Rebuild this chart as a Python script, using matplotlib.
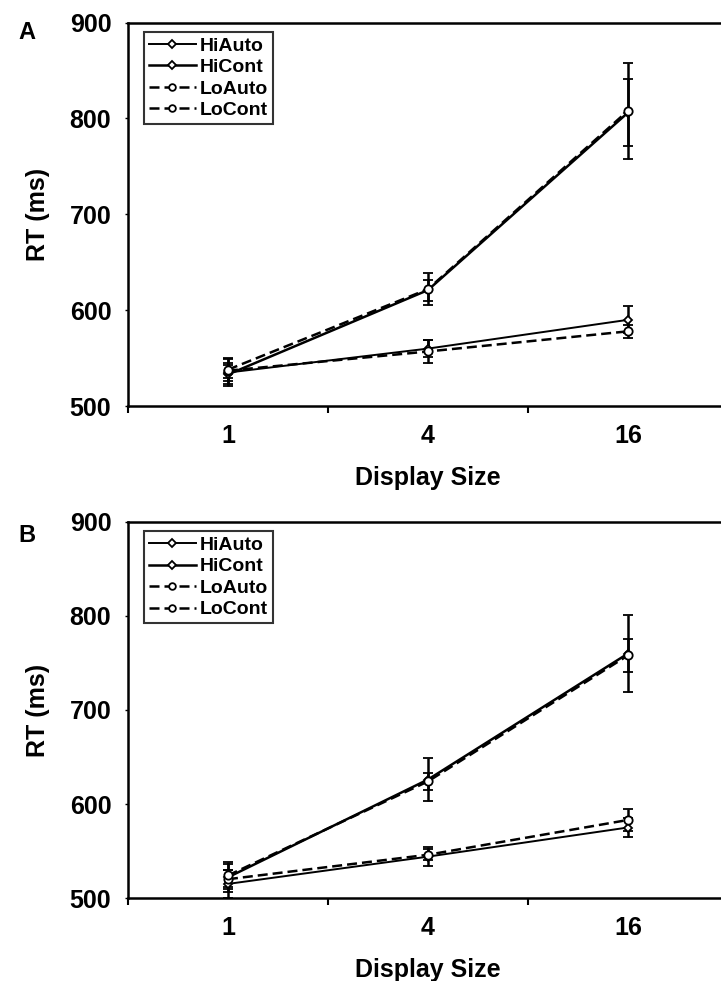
import matplotlib.pyplot as plt
from matplotlib.ticker import FixedLocator

plt.rcParams['font.family'] = ['Liberation Sans', 'DejaVu Sans']
plt.rcParams['font.weight'] = 'bold'

# Display size categories
display_sizes = ["1", "4", "16"]
series_names = ["HiAuto", "HiCont", "LoAuto", "LoCont"]

# Panel A mean RTs (ms) and error bar half-widths
a_hi_auto = [535, 560, 590]
a_hi_cont = [533, 621, 806]
a_lo_auto = [537, 557, 578]
a_lo_cont = [538, 622, 808]
a_hi_auto_err = [14, 9, 14]
a_hi_cont_err = [10, 11, 35]
a_lo_auto_err = [8, 12, 7]
a_lo_cont_err = [12, 17, 50]

# Panel B mean RTs (ms) and error bar half-widths
b_hi_auto = [515, 544, 575]
b_hi_cont = [522, 626, 760]
b_lo_auto = [520, 546, 583]
b_lo_cont = [524, 624, 758]
b_hi_auto_err = [15, 10, 10]
b_hi_cont_err = [16, 23, 41]
b_lo_auto_err = [10, 6, 12]
b_lo_cont_err = [12, 9, 18]

styles = {
    "HiAuto": dict(ls="-", marker="D", ms=4.5, lw=1.4),
    "HiCont": dict(ls="-", marker="D", ms=4.5, lw=1.8),
    "LoAuto": dict(ls="--", marker="o", ms=6, lw=1.8),
    "LoCont": dict(ls="--", marker="o", ms=6, lw=1.8),
}


def draw_panel(ax, means, errs, letter, letter_y):
    xs = list(range(1, len(display_sizes) + 1))
    handles = []
    for name, m, e in zip(series_names, means, errs):
        st = styles[name]
        h = ax.errorbar(xs, m, yerr=e, color="black", ls=st["ls"], lw=st["lw"],
                        marker=st["marker"], ms=st["ms"], mfc="white", mec="black",
                        mew=1.3, ecolor="black", elinewidth=1.8, capsize=3.5,
                        capthick=1.8, label=name)
        if st["ls"] == "--":
            h[0].set_dashes((4, 2))
        handles.append(h[0])  # legend shows line + marker only

    ax.set_xlim(0.5, 3.5)
    ax.set_ylim(500, 900)
    ax.set_yticks([500, 600, 700, 800, 900])
    ax.set_xticks(xs)
    ax.set_xticklabels(display_sizes)
    ax.xaxis.set_minor_locator(FixedLocator([0.5, 1.5, 2.5, 3.5]))
    ax.tick_params(axis="x", which="major", length=0, pad=13, labelsize=18)
    ax.tick_params(axis="x", which="minor", length=5, width=1.5, direction="out")
    ax.tick_params(axis="y", length=2, width=1, direction="out", pad=10, labelsize=18)

    for side in ["left", "bottom", "top"]:
        ax.spines[side].set_linewidth(1.8)
    ax.spines["right"].set_visible(False)

    ax.set_ylabel("RT (ms)", fontsize=18, fontweight="bold", labelpad=14)
    ax.set_xlabel("Display Size", fontsize=18, fontweight="bold", labelpad=13)

    leg = ax.legend(handles, series_names, loc="upper left", bbox_to_anchor=(0.027, 0.975),
                    fontsize=14, frameon=True, fancybox=False, edgecolor="black",
                    handlelength=2.4, handletextpad=0.2, borderpad=0.25, labelspacing=0.2,
                    borderaxespad=0, markerscale=0.8)
    leg.get_frame().set_linewidth(1.5)
    ax.text(-0.168, letter_y, letter, transform=ax.transAxes, fontsize=17,
            ha="center", va="center")


fig = plt.figure(figsize=(7.21, 9.81), dpi=100)
ax_a = fig.add_axes([0.1775, 0.586, 0.832, 0.391])
ax_b = fig.add_axes([0.1775, 0.0846, 0.832, 0.3833])

draw_panel(ax_a, [a_hi_auto, a_hi_cont, a_lo_auto, a_lo_cont],
           [a_hi_auto_err, a_hi_cont_err, a_lo_auto_err, a_lo_cont_err], "A", 0.975)
draw_panel(ax_b, [b_hi_auto, b_hi_cont, b_lo_auto, b_lo_cont],
           [b_hi_auto_err, b_hi_cont_err, b_lo_auto_err, b_lo_cont_err], "B", 0.965)

fig.savefig("out.png", dpi=100)
